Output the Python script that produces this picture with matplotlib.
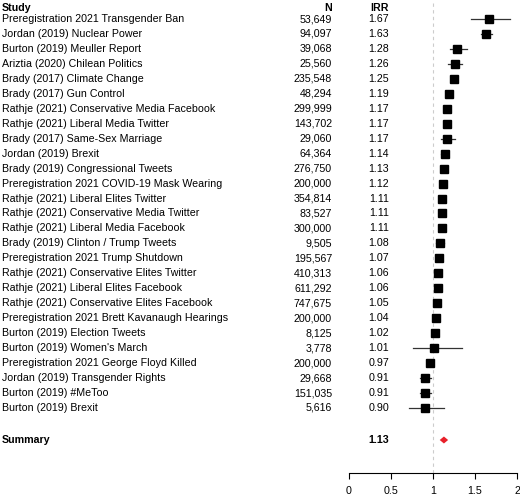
import matplotlib
matplotlib.use("Agg")
import matplotlib.pyplot as plt
from matplotlib.transforms import blended_transform_factory as btf

studies = ["Preregistration 2021 Transgender Ban","Jordan (2019) Nuclear Power","Burton (2019) Meuller Report",
"Ariztia (2020) Chilean Politics","Brady (2017) Climate Change","Brady (2017) Gun Control",
"Rathje (2021) Conservative Media Facebook","Rathje (2021) Liberal Media Twitter","Brady (2017) Same-Sex Marriage",
"Jordan (2019) Brexit","Brady (2019) Congressional Tweets","Preregistration 2021 COVID-19 Mask Wearing",
"Rathje (2021) Liberal Elites Twitter","Rathje (2021) Conservative Media Twitter","Rathje (2021) Liberal Media Facebook",
"Brady (2019) Clinton / Trump Tweets","Preregistration 2021 Trump Shutdown","Rathje (2021) Conservative Elites Twitter",
"Rathje (2021) Liberal Elites Facebook","Rathje (2021) Conservative Elites Facebook","Preregistration 2021 Brett Kavanaugh Hearings",
"Burton (2019) Election Tweets","Burton (2019) Women's March","Preregistration 2021 George Floyd Killed",
"Jordan (2019) Transgender Rights","Burton (2019) #MeToo","Burton (2019) Brexit"]
n_vals = ["53,649","94,097","39,068","25,560","235,548","48,294","299,999","143,702","29,060","64,364","276,750",
"200,000","354,814","83,527","300,000","9,505","195,567","410,313","611,292","747,675","200,000","8,125","3,778",
"200,000","29,668","151,035","5,616"]
irr = [1.67,1.63,1.28,1.26,1.25,1.19,1.17,1.17,1.17,1.14,1.13,1.12,1.11,1.11,1.11,1.08,1.07,1.06,1.06,1.05,1.04,1.02,1.01,0.97,0.91,0.91,0.90]
lo = [1.45,1.57,1.20,1.18,1.22,1.15,1.15,1.15,1.10,1.10,1.11,1.10,1.09,1.09,1.09,1.04,1.05,1.04,1.04,1.03,1.02,1.00,0.76,0.95,0.85,0.85,0.71]
hi = [1.92,1.70,1.40,1.34,1.28,1.23,1.19,1.19,1.26,1.18,1.15,1.14,1.13,1.13,1.13,1.13,1.09,1.08,1.08,1.07,1.06,1.04,1.35,0.99,0.98,0.98,1.13]
summary = (1.13, 1.08, 1.18)

plt.rcParams['font.family'] = ['Liberation Sans', 'DejaVu Sans']
fig = plt.figure(figsize=(5.2, 4.96), dpi=100)
H = 496
ax = fig.add_axes([349/520, 1-473/H, 168/520, 473/H])
ax.set_ylim(473, 0)
ax.set_xlim(0, 2)
ys = [19 + 14.96*i for i in range(len(studies))]
ysum = 440
ax.axvline(1, color='#cccccc', ls=(0, (3, 3)), lw=0.8)
for y, m, l, h in zip(ys, irr, lo, hi):
    ax.plot([l, h], [y, y], color='#333333', lw=0.9)
    ax.plot([m], [y], marker='s', ms=6, color='black')
m, l, h = summary
ax.fill([l, m, h, m], [ysum, ysum-3.5, ysum, ysum+3.5], color='#e8202a', lw=0)
for s in ['left', 'top', 'right']:
    ax.spines[s].set_visible(False)
ax.set_yticks([])
ax.set_xticks([0, 0.5, 1, 1.5, 2])
ax.set_xticklabels(["0", "0.5", "1", "1.5", "2"])
ax.tick_params(axis='x', labelsize=7.7, length=4, width=0.8, pad=5)
ax.spines['bottom'].set_linewidth(0.8)

tr = btf(fig.transFigure, ax.transData)
fs = 7.7
ax.text(2/520, 8, "Study", transform=tr, fontsize=fs, fontweight='bold', va='center', clip_on=False)
ax.text(332/520, 8, "N", transform=tr, fontsize=fs, fontweight='bold', va='center', ha='right', clip_on=False)
ax.text(389/520, 8, "IRR", transform=tr, fontsize=fs, fontweight='bold', va='center', ha='right', clip_on=False)
for y, s, n, v in zip(ys, studies, n_vals, irr):
    ax.text(2/520, y, s, transform=tr, fontsize=fs, va='center', clip_on=False)
    ax.text(332/520, y, n, transform=tr, fontsize=fs, va='center', ha='right', clip_on=False)
    ax.text(389/520, y, f"{v:.2f}", transform=tr, fontsize=fs, va='center', ha='right', clip_on=False)
ax.text(2/520, ysum, "Summary", transform=tr, fontsize=fs, fontweight='bold', va='center', clip_on=False)
ax.text(389/520, ysum, f"{summary[0]:.2f}", transform=tr, fontsize=fs, fontweight='bold', va='center', ha='right', clip_on=False)
fig.savefig("out.png", dpi=100)
